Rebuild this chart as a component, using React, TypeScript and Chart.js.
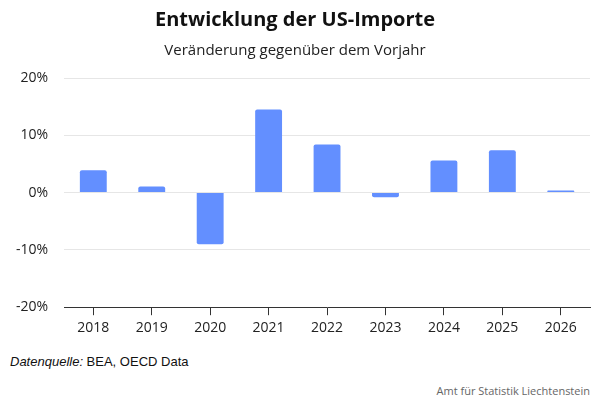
import { useEffect, useRef } from "react"
import { Chart, registerables } from "chart.js"

Chart.register(...registerables)

const years = ["2018", "2019", "2020", "2021", "2022", "2023", "2024", "2025", "2026"]
const changes = [3.9, 1.05, -9.0, 14.5, 8.4, -0.8, 5.6, 7.4, 0.35]
const yTicks = [-20, -10, 0, 10, 20]

const FONT = "'Open Sans', Lato, sans-serif"

export default function App() {
  const chartRef = useRef<HTMLCanvasElement | null>(null)
  const chartInstance = useRef<Chart | null>(null)

  useEffect(() => {
    if (!chartRef.current) return
    if (chartInstance.current) chartInstance.current.destroy()

    const ctx = chartRef.current.getContext("2d")
    if (!ctx) return

    chartInstance.current = new Chart(ctx, {
      type: "bar",
      data: {
        labels: years,
        datasets: [
          {
            label: "Veränderung",
            data: changes,
            backgroundColor: "#638fff",
            borderWidth: 0,
            borderRadius: 2,
            borderSkipped: "start",
            barPercentage: 0.46,
            categoryPercentage: 1,
          },
        ],
      },
      options: {
        responsive: true,
        maintainAspectRatio: false,
        animation: false,
        layout: { padding: { left: 0, right: 10, top: 4, bottom: 0 } },
        plugins: {
          legend: { display: false },
          tooltip: { enabled: false },
          title: {
            display: true,
            text: "Entwicklung der US-Importe",
            color: "#111",
            font: { family: FONT, size: 20, weight: "bold" },
            padding: { top: 4, bottom: 10 },
          },
          subtitle: {
            display: true,
            text: "Veränderung gegenüber dem Vorjahr",
            color: "#222",
            font: { family: FONT, size: 15 },
            padding: { top: 0, bottom: 18 },
          },
        },
        scales: {
          x: {
            grid: {
              drawOnChartArea: false,
              drawTicks: true,
              offset: false,
              tickLength: 8,
              color: "#333",
            },
            border: { display: true, color: "#333", width: 1 },
            ticks: {
              color: "#222",
              font: { family: FONT, size: 14 },
              padding: 4,
            },
          },
          y: {
            min: -20,
            max: 20,
            afterBuildTicks: (axis) => {
              axis.ticks = yTicks.map((v) => ({ value: v }))
            },
            grid: { color: "#e6e6e6", drawTicks: false },
            border: { display: false },
            ticks: {
              color: "#222",
              font: { family: FONT, size: 14 },
              padding: 16,
              callback: (v) => `${v}%`,
            },
          },
        },
      },
    })

    return () => {
      if (chartInstance.current) {
        chartInstance.current.destroy()
        chartInstance.current = null
      }
    }
  }, [])

  return (
    <div
      style={{
        position: "fixed",
        left: 0,
        top: 0,
        width: 600,
        height: 400,
        background: "#fff",
      }}
    >
      <div style={{ position: "absolute", left: 0, top: 0, width: 600, height: 340 }}>
        <canvas ref={chartRef} />
      </div>
      <div
        style={{
          position: "absolute",
          left: 10,
          top: 354,
          fontFamily: "'Liberation Sans', Arial, sans-serif",
          fontSize: 13,
          color: "#111",
        }}
      >
        <i>Datenquelle:</i> BEA, OECD Data
      </div>
      <div
        style={{
          position: "absolute",
          right: 10,
          top: 383,
          fontFamily: FONT,
          fontSize: 11,
          color: "#666",
        }}
      >
        Amt für Statistik Liechtenstein
      </div>
    </div>
  )
}
